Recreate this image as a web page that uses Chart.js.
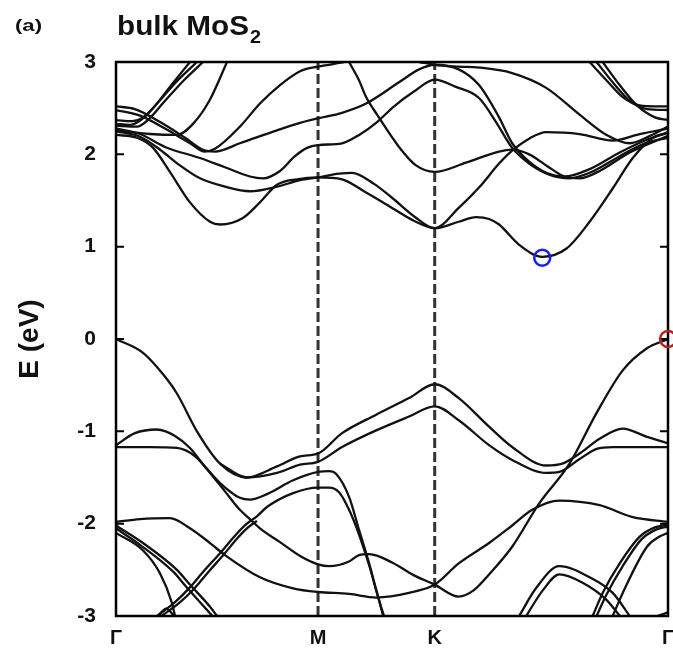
<!DOCTYPE html>
<html>
<head>
<meta charset="UTF-8">
<title>bulk MoS2 bands</title>
<script src="https://cdn.jsdelivr.net/npm/chart.js@4.4.0/dist/chart.umd.min.js"></script>
<style>
  body { margin:0; padding:0; background:#fff; }
  canvas { display:block; }
</style>
</head>
<body>
<canvas id="bands" width="673" height="659"></canvas>
<script>
// k-path: Γ - M - K - Γ  (path length units, Γ-M = √3/2, M-K = 1/2, K-Γ = 1)
const symK = [0, 0.866, 1.366, 2.366];
const symLabels = ['Γ', 'M', 'K', 'Γ'];
const eTicks = [-3, -2, -1, 0, 1, 2, 3];

// valence bands, [k, E(eV)]
const vb1 = [[0,0],[0.116,-0.15],[0.201,-0.38],[0.261,-0.59],[0.347,-1.0],[0.446,-1.35],[0.561,-1.50],[0.69,-1.38],[0.789,-1.27],[0.866,-1.24],[0.969,-1.02],[1.115,-0.82],[1.256,-0.64],[1.366,-0.49],[1.469,-0.64],[1.599,-0.95],[1.698,-1.17],[1.844,-1.37],[1.913,-1.35],[1.987,-1.24],[2.073,-1.08],[2.172,-0.97],[2.276,-1.06],[2.366,-1.13]];
const vb2 = [[0.446,-1.35],[0.561,-1.50],[0.69,-1.45],[0.789,-1.36],[0.866,-1.33],[0.969,-1.17],[1.115,-0.99],[1.256,-0.84],[1.366,-0.73],[1.469,-0.88],[1.599,-1.15],[1.698,-1.31],[1.844,-1.45],[1.9,-1.44],[1.987,-1.30],[2.06,-1.19],[2.129,-1.17],[2.366,-1.17]];
const vb3 = [[0,-1.15],[0.081,-1.02],[0.176,-0.98],[0.253,-1.05],[0.317,-1.18],[0.381,-1.38],[0.446,-1.56],[0.531,-1.72],[0.574,-1.74],[0.647,-1.68],[0.759,-1.53],[0.866,-1.44],[0.913,-1.43],[0.943,-1.46],[0.999,-1.71],[1.042,-2.07],[1.085,-2.43],[1.115,-2.72],[1.136,-2.9],[1.149,-3.0]];
const vb4 = [[0,-1.17],[0.146,-1.17],[0.261,-1.18],[0.339,-1.27],[0.403,-1.45],[0.467,-1.65],[0.531,-1.85],[0.574,-1.95],[0.617,-2.05],[0.703,-2.2],[0.789,-2.35],[0.866,-2.44],[0.913,-2.46],[0.999,-2.41],[1.042,-2.34],[1.085,-2.33],[1.183,-2.42],[1.277,-2.56],[1.366,-2.66],[1.469,-2.79],[1.534,-2.72],[1.599,-2.55],[1.698,-2.25],[1.814,-1.78],[1.944,-1.35],[2.06,-0.80],[2.172,-0.34],[2.276,-0.10],[2.366,0]];
const vb5 = [[0.176,-3.0],[0.253,-2.85],[0.317,-2.69],[0.381,-2.5],[0.446,-2.32],[0.51,-2.13],[0.561,-2.0],[0.604,-1.92],[0.647,-1.82],[0.759,-1.67],[0.866,-1.61],[0.913,-1.61],[0.956,-1.66],[0.999,-1.85],[1.042,-2.12],[1.085,-2.45],[1.119,-2.75],[1.145,-3.0]];
const vb5b = [[0.195,-3.0],[0.27,-2.86],[0.333,-2.71],[0.397,-2.52],[0.46,-2.34],[0.523,-2.15],[0.566,-2.04],[0.604,-1.97]];
const vb6 = [[0,-1.98],[0.103,-1.95],[0.231,-1.94],[0.317,-2.05],[0.403,-2.21],[0.467,-2.34],[0.617,-2.58],[0.759,-2.70],[0.866,-2.74],[0.999,-2.76],[1.115,-2.80],[1.256,-2.75],[1.366,-2.66],[1.469,-2.43],[1.599,-2.21],[1.698,-2.02],[1.784,-1.85],[1.9,-1.75],[2.073,-1.80],[2.215,-1.93],[2.366,-1.98]];
const vb7 = [[0,-2.02],[0.116,-2.21],[0.261,-2.5],[0.317,-2.66],[0.403,-2.9],[0.433,-3.0]];
const vb7b = [[0,-2.05],[0.103,-2.23],[0.245,-2.52],[0.3,-2.68],[0.385,-2.92],[0.413,-3.0]];
const vb8 = [[0,-2.1],[0.116,-2.29],[0.189,-2.54],[0.24,-2.86],[0.253,-3.0]];
const vb8loop = [[0.18,-3.0],[0.215,-2.92],[0.25,-3.0]];
const vb9 = [[2.043,-3.0],[2.086,-2.75],[2.159,-2.43],[2.245,-2.14],[2.31,-2.04],[2.366,-2.01]];
const vb9b = [[2.06,-3.0],[2.102,-2.77],[2.172,-2.46],[2.252,-2.17],[2.31,-2.07],[2.366,-2.03]];
const vb10 = [[2.129,-3.0],[2.172,-2.75],[2.276,-2.25],[2.33,-2.14],[2.366,-2.10]];
const vb11 = [[1.728,-3.0],[1.80,-2.70],[1.9,-2.46],[2.03,-2.58],[2.129,-2.75],[2.202,-3.0]];
const vb11b = [[1.758,-3.0],[1.83,-2.72],[1.9,-2.55],[2.0,-2.64],[2.10,-2.82],[2.16,-3.0]];
const vb12 = [[2.32,-3.0],[2.366,-2.96]];

// conduction bands, [k, E(eV)]
const cb1 = [[0,2.21],[0.09,2.18],[0.159,2.07],[0.231,1.81],[0.317,1.48],[0.403,1.27],[0.446,1.24],[0.544,1.31],[0.617,1.48],[0.69,1.67],[0.776,1.73],[0.866,1.75],[0.969,1.73],[1.063,1.60],[1.183,1.42],[1.277,1.28],[1.366,1.20],[1.469,1.27],[1.543,1.32],[1.599,1.30],[1.642,1.24],[1.728,1.02],[1.827,0.89],[1.931,0.98],[2.03,1.27],[2.129,1.63],[2.215,1.96],[2.302,2.18],[2.366,2.23]];
const cb2 = [[0,2.25],[0.103,2.19],[0.189,2.05],[0.274,1.88],[0.36,1.74],[0.467,1.65],[0.574,1.60],[0.69,1.65],[0.789,1.72],[0.866,1.75],[0.956,1.79],[1.012,1.80],[1.106,1.68],[1.183,1.53],[1.277,1.33],[1.366,1.20],[1.469,1.42],[1.556,1.64],[1.642,1.90],[1.698,2.04],[1.771,2.17],[1.844,2.24],[1.987,2.22],[2.129,2.15],[2.245,2.22],[2.366,2.28]];
const cb3 = [[0,2.28],[0.103,2.22],[0.21,2.08],[0.36,1.96],[0.467,1.86],[0.574,1.76],[0.63,1.74],[0.703,1.82],[0.767,1.98],[0.819,2.07],[0.866,2.10],[0.969,2.12],[1.042,2.21],[1.119,2.35],[1.192,2.52],[1.277,2.68],[1.366,2.81],[1.457,2.73],[1.556,2.61],[1.629,2.35],[1.698,2.07],[1.771,1.90],[1.857,1.78],[1.944,1.74],[2.03,1.80],[2.159,1.98],[2.267,2.12],[2.366,2.18]];
const cb4 = [[0,2.52],[0.081,2.49],[0.189,2.35],[0.296,2.18],[0.373,2.05],[0.424,2.03],[0.531,2.12],[0.69,2.26],[0.789,2.34],[0.866,2.39],[0.969,2.45],[1.072,2.55],[1.213,2.78],[1.299,2.92],[1.366,2.97],[1.469,2.92],[1.556,2.75],[1.642,2.40],[1.698,2.12],[1.771,1.92],[1.844,1.80],[1.922,1.76],[2.03,1.84],[2.159,2.02],[2.267,2.15],[2.366,2.24]];
const cb5 = [[0,2.48],[0.103,2.42],[0.21,2.28],[0.317,2.12],[0.381,2.03],[0.424,2.06],[0.531,2.30],[0.617,2.55],[0.703,2.75],[0.789,2.90],[0.866,2.95],[0.913,2.97],[0.977,3.0]];
const cb6 = [[0.999,3.0],[1.042,2.80],[1.072,2.62],[1.119,2.43],[1.213,2.08],[1.286,1.88],[1.366,1.81],[1.5,1.91],[1.642,2.03],[1.698,2.05],[1.771,2.00],[1.844,1.88],[1.922,1.76],[1.987,1.74],[2.073,1.82],[2.202,2.02],[2.366,2.20]];
const cb7 = [[1.30,3.0],[1.366,2.97],[1.469,2.95],[1.556,2.94],[1.698,2.88],[1.844,2.72],[1.987,2.43],[2.103,2.21],[2.202,2.12],[2.289,2.20],[2.366,2.30]];
const s1 = [[0,2.33],[0.06,2.32],[0.10,2.36],[0.159,2.50],[0.24,2.76],[0.317,3.0]];
const s2 = [[0,2.37],[0.07,2.36],[0.116,2.40],[0.176,2.55],[0.26,2.79],[0.347,3.0]];
const s3 = [[0,2.31],[0.09,2.30],[0.14,2.38],[0.20,2.55],[0.29,2.80],[0.373,3.0]];
const s4 = [[0,2.26],[0.146,2.22],[0.261,2.21],[0.33,2.33],[0.40,2.58],[0.476,3.0]];
const t1 = [[2.03,3.0],[2.103,2.80],[2.172,2.62],[2.245,2.53],[2.31,2.52],[2.366,2.52]];
const t2 = [[2.06,3.0],[2.129,2.78],[2.202,2.58],[2.276,2.49],[2.366,2.48]];
const t3 = [[2.086,3.0],[2.159,2.75],[2.233,2.53],[2.31,2.40],[2.366,2.37]];

const bands = [vb1, vb2, vb3, vb4, vb5, vb5b, vb6, vb7, vb7b, vb8, vb8loop, vb9, vb9b, vb10, vb11, vb11b, vb12,
               cb1, cb2, cb3, cb4, cb5, cb6, cb7, s1, s2, s3, s4, t1, t2, t3];

// band edges marked with circles: [k, E, colour]
const cbMin = [1.827, 0.88, '#1a1aff'];
const vbMax = [2.366, 0, '#c0201c'];

const FONT = '"Liberation Sans", Arial, sans-serif';
const toXY = arr => arr.map(p => ({x: p[0], y: p[1]}));

var datasets = [];
// dashed lines at M and K
[symK[1], symK[2]].forEach(function (k) {
    datasets.push({
        data: toXY([[k, -3], [k, 3]]), order: 2, borderColor: '#333', borderWidth: 3,
        borderDash: [10, 4], pointRadius: 0, tension: 0
    });
});
bands.forEach(function (b) {
    datasets.push({
        data: toXY(b), order: 1, borderColor: '#111', borderWidth: 2.3,
        pointRadius: 0, cubicInterpolationMode: 'monotone'
    });
});

// frame, inward ticks, band-edge circles and headings
const framePlugin = {
    id: 'frame',
    afterDraw(chart) {
        const ctx = chart.ctx, a = chart.chartArea, x = chart.scales.x, y = chart.scales.y;
        ctx.save();
        ctx.strokeStyle = '#000';
        ctx.lineWidth = 2.5;
        ctx.strokeRect(a.left, a.top, a.right - a.left, a.bottom - a.top);
        ctx.lineWidth = 2;
        eTicks.forEach(function (e) {
            const py = y.getPixelForValue(e);
            ctx.beginPath();
            ctx.moveTo(a.left, py); ctx.lineTo(a.left + 8, py);
            ctx.moveTo(a.right, py); ctx.lineTo(a.right - 8, py);
            ctx.stroke();
        });
        ctx.lineWidth = 2.5;
        [cbMin, vbMax].forEach(function (c) {
            ctx.strokeStyle = c[2];
            ctx.beginPath();
            ctx.arc(x.getPixelForValue(c[0]), y.getPixelForValue(c[1]), 8, 0, 2 * Math.PI);
            ctx.stroke();
        });
        // headings are slightly wider than the font in the original figure
        ctx.fillStyle = '#111';
        ctx.textBaseline = 'alphabetic';
        ctx.translate(15, 0);
        ctx.scale(1.3, 1);
        ctx.font = 'bold 17px ' + FONT;
        ctx.fillText('(a)', 0, 31);
        ctx.setTransform(1, 0, 0, 1, 117, 0);
        ctx.scale(1.1, 1);
        ctx.font = 'bold 27px ' + FONT;
        ctx.fillText('bulk MoS', 0, 35);
        const w = ctx.measureText('bulk MoS').width;
        ctx.font = 'bold 18px ' + FONT;
        ctx.fillText('2', w + 1, 43);
        ctx.restore();
    }
};

var ctx = document.getElementById('bands').getContext('2d');
var chart = new Chart(ctx, {
    type: 'line',
    data: { datasets: datasets },
    plugins: [framePlugin],
    options: {
        responsive: false,
        animation: false,
        devicePixelRatio: 1,
        layout: { padding: { left: 0, right: 5, top: 62, bottom: 0 } },
        plugins: { legend: { display: false }, tooltip: { enabled: false } },
        scales: {
            x: {
                type: 'linear', min: 0, max: symK[3],
                afterFit: function (s) { s.height = 43; s.paddingLeft = 0; s.paddingRight = 0; },
                afterBuildTicks: function (s) { s.ticks = symK.map(v => ({value: v})); },
                grid: { display: false, drawTicks: false },
                border: { display: false },
                ticks: {
                    padding: 10, color: '#111', maxRotation: 0, autoSkip: false,
                    font: { family: FONT, size: 20, weight: 'bold' },
                    callback: function (v) { return symLabels[symK.indexOf(v)]; }
                }
            },
            y: {
                type: 'linear', min: -3, max: 3,
                afterFit: function (s) { s.width = 116; s.paddingTop = 0; s.paddingBottom = 0; },
                afterBuildTicks: function (s) { s.ticks = eTicks.map(v => ({value: v})); },
                grid: { display: false, drawTicks: false },
                border: { display: false },
                ticks: { padding: 20, color: '#111', font: { family: FONT, size: 21, weight: 'bold' } },
                title: {
                    display: true, text: 'E (eV)', color: '#111',
                    padding: { top: 13, bottom: 0 },
                    font: { family: FONT, size: 28, weight: 'bold' }
                }
            }
        }
    }
});
</script>
</body>
</html>
